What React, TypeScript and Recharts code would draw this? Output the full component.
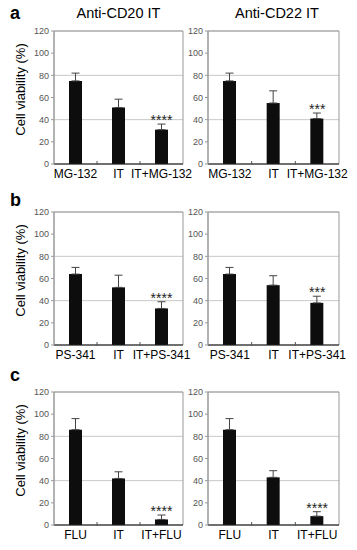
import React from 'react';
import {
  BarChart,
  Bar,
  XAxis,
  YAxis,
  CartesianGrid,
  ErrorBar,
  ReferenceArea,
  ReferenceDot,
} from 'recharts';

const FONT = '"Liberation Sans", Arial, sans-serif';

const yTicks = [0, 20, 40, 60, 80, 100, 120];

const mgLabels = ['MG-132', 'IT', 'IT+MG-132'];
const psLabels = ['PS-341', 'IT', 'IT+PS-341'];
const fluLabels = ['FLU', 'IT', 'IT+FLU'];

// cell viability (%) and upper error
const cd20Mg = [75, 51, 31];
const cd20MgErr = [7, 7.5, 5];
const cd22Mg = [75, 55, 41];
const cd22MgErr = [7, 11, 5];

const cd20Ps = [64, 52, 33];
const cd20PsErr = [6, 11, 6];
const cd22Ps = [64, 54, 38];
const cd22PsErr = [6, 8.5, 6];

const cd20Flu = [86, 42, 5];
const cd20FluErr = [10, 6, 4];
const cd22Flu = [86, 43, 8];
const cd22FluErr = [10, 6, 4];

const sig4 = ['', '', '****'];
const sig3 = ['', '', '***'];

function CatTick({ x, y, payload, index, band }: any) {
  return (
    <g>
      <text x={x} y={y + 14} textAnchor="middle" fontSize={12} fill="#000" fontFamily={FONT}>
        {payload.value}
      </text>
      {index < 2 && (
        <line x1={x + band / 2} x2={x + band / 2} y1={y - 3} y2={y + 1} stroke="#555" />
      )}
    </g>
  );
}

interface PanelProps {
  labels: string[];
  values: number[];
  errs: number[];
  sig: string[];
  left: number;
  top: number;
  side: 'l' | 'r';
}

function Panel({ labels, values, errs, sig, left, top, side }: PanelProps) {
  const data = labels.map((name, i) => ({
    name,
    value: values[i],
    err: [0, errs[i]],
    top: values[i] + errs[i],
    sig: sig[i],
  }));
  const width = side === 'l' ? 200 : 179;
  const margin = side === 'l'
    ? { top: 31, right: 17, bottom: 1, left: 30 }
    : { top: 31, right: 18, bottom: 1, left: 6 };
  const band = (width - margin.left - margin.right - 24) / 3;

  return (
    <div style={{ position: 'absolute', left, top }}>
      <BarChart width={width} height={185} data={data} margin={margin} style={{ overflow: 'visible' }}>
        <CartesianGrid vertical={false} stroke="#c8c8c8" />
        <ReferenceArea y1={0} y2={120} fill="none" stroke="#999" ifOverflow="visible" />
        <XAxis
          dataKey="name"
          interval={0}
          height={20}
          tickSize={0}
          tickMargin={0}
          tickLine={false}
          axisLine={{ stroke: '#222' }}
          tick={<CatTick band={band} />}
        />
        <YAxis
          width={24}
          domain={[0, 120]}
          ticks={yTicks}
          tickSize={3}
          tickMargin={2}
          axisLine={{ stroke: '#999' }}
          tickLine={{ stroke: '#999' }}
          tick={{ fontSize: 9, fill: '#555', fontFamily: FONT }}
        />
        <Bar dataKey="value" fill="#0d0d0d" barSize={13} isAnimationActive={false}>
          <ErrorBar dataKey="err" width={4} stroke="#444" strokeWidth={1} direction="y" />
        </Bar>
        {data
          .filter((d) => d.sig)
          .map((d) => (
            <ReferenceDot
              key={d.name}
              x={d.name}
              y={d.top}
              r={0}
              fill="none"
              stroke="none"
              ifOverflow="visible"
              label={{ value: d.sig, position: 'top', offset: -1, fontSize: 14, fill: '#222', fontFamily: FONT }}
            />
          ))}
      </BarChart>
    </div>
  );
}

export default function App() {
  return (
    <div
      style={{
        position: 'absolute',
        left: 0,
        top: 0,
        width: 357,
        height: 550,
        background: '#fff',
        fontFamily: FONT,
      }}
    >
      <Panel labels={mgLabels} values={cd20Mg} errs={cd20MgErr} sig={sig4} left={0} top={0} side="l" />
      <Panel labels={mgLabels} values={cd22Mg} errs={cd22MgErr} sig={sig3} left={178} top={0} side="r" />
      <Panel labels={psLabels} values={cd20Ps} errs={cd20PsErr} sig={sig4} left={0} top={181} side="l" />
      <Panel labels={psLabels} values={cd22Ps} errs={cd22PsErr} sig={sig3} left={178} top={181} side="r" />
      <Panel labels={fluLabels} values={cd20Flu} errs={cd20FluErr} sig={sig4} left={0} top={361} side="l" />
      <Panel labels={fluLabels} values={cd22Flu} errs={cd22FluErr} sig={sig4} left={178} top={361} side="r" />

      <svg
        width={357}
        height={550}
        style={{ position: 'absolute', left: 0, top: 0, pointerEvents: 'none' }}
        fontFamily={FONT}
      >
        <text x={118.5} y={18} textAnchor="middle" fontSize={14.5} fill="#000">Anti-CD20 IT</text>
        <text x={277} y={18} textAnchor="middle" fontSize={14.5} fill="#000">Anti-CD22 IT</text>
        <text x={10} y={19} fontSize={18} fontWeight="bold" fill="#000">a</text>
        <text x={10} y={206} fontSize={18} fontWeight="bold" fill="#000">b</text>
        <text x={10} y={381} fontSize={18} fontWeight="bold" fill="#000">c</text>
        {[89.5, 270.5, 450.5].map((cy) => (
          <text
            key={cy}
            transform={`translate(24.5, ${cy}) rotate(-90)`}
            textAnchor="middle"
            fontSize={13}
            fill="#000"
          >
            Cell viability (%)
          </text>
        ))}
      </svg>
    </div>
  );
}
